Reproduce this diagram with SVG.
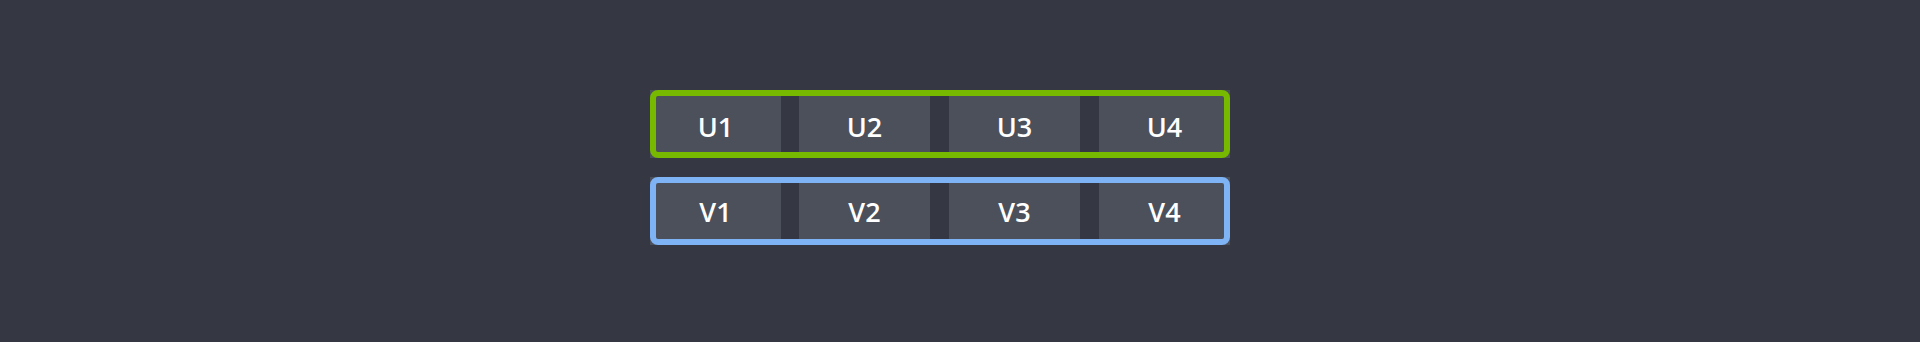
<svg xmlns="http://www.w3.org/2000/svg" width="1920" height="342" viewBox="0 0 1920 342">
<style>
.cell{fill:#4b505b}
.lbl{fill:#ffffff;font-family:"Open Sans","DejaVu Sans",sans-serif;font-size:27px;font-weight:600;text-anchor:middle}
.frame{fill:none;stroke-width:6}
</style>
<rect width="1920" height="342" fill="#353842"/>
<g id="row-u">
  <g id="U1"><rect class="cell" x="650" y="90" width="131" height="68"/><text class="lbl" x="715.5" y="136.5">U1</text></g>
  <g id="U2"><rect class="cell" x="799" y="90" width="131" height="68"/><text class="lbl" x="864.5" y="136.5">U2</text></g>
  <g id="U3"><rect class="cell" x="949" y="90" width="131" height="68"/><text class="lbl" x="1014.5" y="136.5">U3</text></g>
  <g id="U4"><rect class="cell" x="1099" y="90" width="131" height="68"/><text class="lbl" x="1164.5" y="136.5">U4</text></g>
  <rect class="frame" x="653" y="93" width="574" height="62" rx="5" stroke="#76b900"/>
</g>
<g id="row-v">
  <g id="V1"><rect class="cell" x="650" y="177" width="131" height="68"/><text class="lbl" x="715.5" y="221.5">V1</text></g>
  <g id="V2"><rect class="cell" x="799" y="177" width="131" height="68"/><text class="lbl" x="864.5" y="221.5">V2</text></g>
  <g id="V3"><rect class="cell" x="949" y="177" width="131" height="68"/><text class="lbl" x="1014.5" y="221.5">V3</text></g>
  <g id="V4"><rect class="cell" x="1099" y="177" width="131" height="68"/><text class="lbl" x="1164.5" y="221.5">V4</text></g>
  <rect class="frame" x="653" y="180" width="574" height="62" rx="5" stroke="#7eb3f5"/>
</g>
<g id="connectors"/>
</svg>
